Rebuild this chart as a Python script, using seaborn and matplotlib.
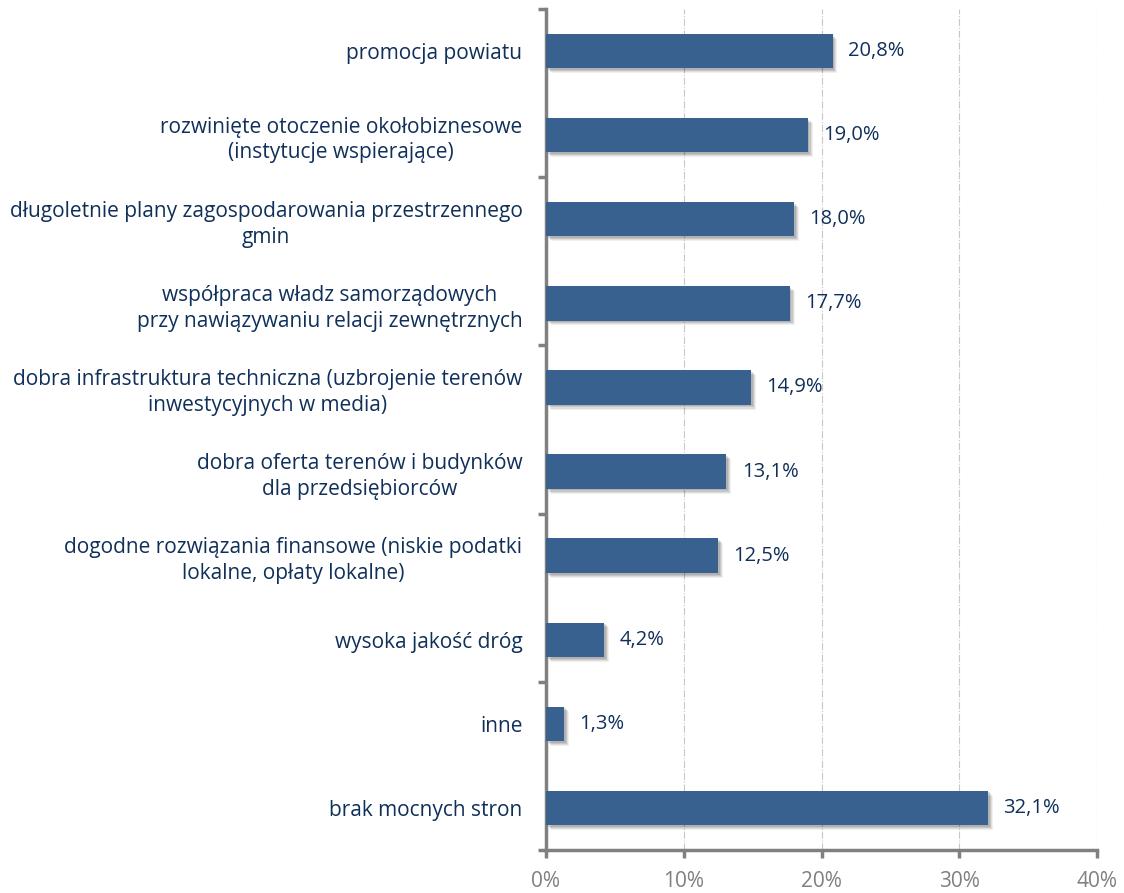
import matplotlib
matplotlib.use("Agg")
import matplotlib.pyplot as plt
import matplotlib.patheffects as pe
from matplotlib.ticker import FixedLocator, PercentFormatter
import seaborn as sns
import pandas as pd

# dane z wykresu
kategorie = [
    "promocja powiatu",
    "rozwinięte otoczenie okołobiznesowe\n(instytucje wspierające)",
    "długoletnie plany zagospodarowania przestrzennego\ngmin",
    "współpraca władz samorządowych\nprzy nawiązywaniu relacji zewnętrznych",
    "dobra infrastruktura techniczna (uzbrojenie terenów\ninwestycyjnych w media)",
    "dobra oferta terenów i budynków\ndla przedsiębiorców",
    "dogodne rozwiązania finansowe (niskie podatki\nlokalne, opłaty lokalne)",
    "wysoka jakość dróg",
    "inne",
    "brak mocnych stron",
]
wartosci = [20.8, 19.0, 18.0, 17.7, 14.9, 13.1, 12.5, 4.2, 1.3, 32.1]
xticki = [0, 10, 20, 30, 40]

df = pd.DataFrame({"kategoria": kategorie, "procent": wartosci})

sns.set_style("white")
plt.rcParams["font.family"] = ["Open Sans", "DejaVu Sans"]

kolor_slupka = "#386190"
kolor_tekstu = "#10305A"
kolor_osi = "#808080"

fig = plt.figure(figsize=(11.24, 8.93), dpi=100)
ax = fig.add_axes([546 / 1124, 1 - 850 / 893, (1097 - 546) / 1124, (850 - 9) / 893])

sns.barplot(data=df, x="procent", y="kategoria", color=kolor_slupka,
            width=0.41, saturation=1, ax=ax, zorder=3)

# miękki cień w prawo-dół
cien = [pe.SimplePatchShadow(offset=(o, -o), shadow_rgbFace="#000000", alpha=a)
        for o, a in [(3.5, 0.06), (2.8, 0.08), (2.0, 0.1), (1.2, 0.1)]]
for p in ax.patches:
    p.set_edgecolor("none")
    p.set_path_effects(cien + [pe.Normal()])

for i, v in enumerate(wartosci):
    ax.annotate(f"{v:.1f}".replace(".", ",") + "%", xy=(v, i), xytext=(11, 0),
                textcoords="offset points", va="center", ha="left",
                fontsize=14.5, color=kolor_tekstu)

ax.set_xlim(0, 40)
ax.set_ylim(len(kategorie) - 0.5, -0.5)
ax.set_xticks(xticki)
ax.xaxis.set_major_formatter(PercentFormatter(decimals=0))
ax.set_xlabel("")
ax.set_ylabel("")

# podziałki osi Y co dwie kategorie (na granicach)
ax.set_yticks(range(len(kategorie)))
ax.set_yticklabels(kategorie, multialignment="center", linespacing=1.3)
ax.yaxis.set_minor_locator(FixedLocator([-0.5, 1.5, 3.5, 5.5, 7.5, 9.5]))
ax.tick_params(axis="y", which="major", left=False, length=0, pad=17, labelsize=15,
               labelcolor=kolor_tekstu)
ax.tick_params(axis="y", which="minor", left=True, length=6, width=2.5, color=kolor_osi,
               direction="out")
ax.tick_params(axis="x", which="major", bottom=True, length=6, width=2.5, color=kolor_osi,
               direction="out", labelsize=15, labelcolor=kolor_osi, pad=9)

ax.grid(axis="x", color="#C8C8C8", linestyle="-.", linewidth=0.8, zorder=0)
ax.grid(axis="y", visible=False)
for s in ["top", "right"]:
    ax.spines[s].set_visible(False)
for s in ["left", "bottom"]:
    ax.spines[s].set_color(kolor_osi)
    ax.spines[s].set_linewidth(2.5)

fig.savefig("out.png", dpi=100)
